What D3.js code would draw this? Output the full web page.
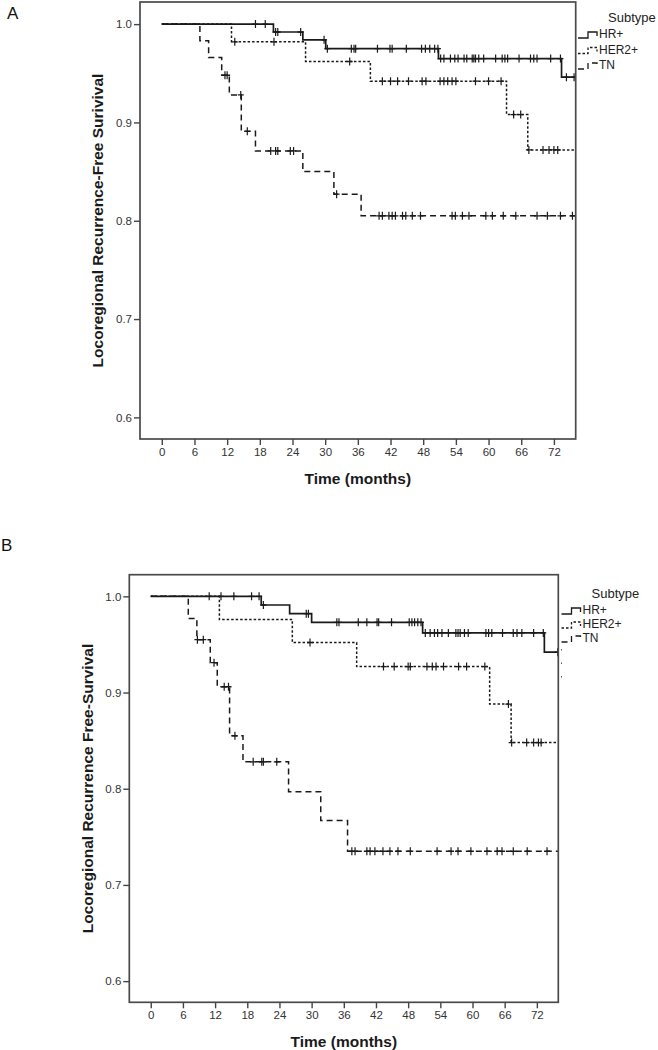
<!DOCTYPE html>
<html><head><meta charset="utf-8">
<script src="https://cdn.jsdelivr.net/npm/d3@7"></script>
<style>body{margin:0;background:#fff;} text{font-family:"Liberation Sans",Arial,sans-serif;}</style>
</head><body><svg id="c" width="658" height="1050"></svg>
<script>
// ---------- data ----------
const xTicks = [0,6,12,18,24,30,36,42,48,54,60,66,72];
const yTicks = [0.6,0.7,0.8,0.9,1.0];
const subtypes = ["HR+","HER2+","TN"];

// Panel A
const A_HR_events = [20.5,25.9,30.1,50.8,73.4];
const A_HR_surv   = [0.992,0.984,0.975,0.965,0.946];
const A_HR_cens   = [17.2,19.0,20.9,21.3,25.5,29.8,30.4,34.8,35.3,35.6,39.6,41.9,42.3,44.9,47.7,48.4,49.2,50.1,50.7,51.2,51.8,53.0,53.8,54.4,55.5,56.0,57.0,57.3,57.6,58.2,59.1,61.3,62.5,63.0,63.5,65.6,67.7,68.3,68.9,71.4,73.2,74.3,75.7];
const A_HER2_events = [12.8,26.4,38.3,63.3,67.2];
const A_HER2_surv   = [0.982,0.962,0.942,0.908,0.872];
const A_HER2_cens   = [13.4,20.6,34.5,40.5,42.0,43.3,45.3,47.8,48.5,51.1,51.8,52.5,53.3,54.0,57.6,60.0,62.3,64.6,65.9,67.4,70.0,71.1,72.0,72.7];
const A_TN_events = [7.0,8.6,11.0,12.4,14.6,17.2,25.9,31.6,36.6];
const A_TN_surv   = [0.983,0.966,0.948,0.928,0.891,0.871,0.850,0.827,0.805];
const A_TN_cens   = [11.6,12.0,14.5,15.7,20.0,20.9,21.3,23.6,24.2,32.1,39.9,40.5,41.7,42.3,42.9,44.2,44.8,46.0,47.5,53.3,53.9,55.2,56.4,59.5,60.7,62.7,65.0,68.9,70.8,73.2,75.4];

// Panel B
const B_HR_events = [20.6,25.9,30.0,50.7,73.4];
const B_HR_surv   = [0.991,0.982,0.973,0.962,0.942];
const B_HR_cens   = [10.9,13.1,15.5,18.8,20.2,21.0,29.0,29.4,34.7,35.1,38.7,40.3,42.2,42.5,44.9,48.2,48.7,49.2,49.8,50.4,51.2,52.1,52.9,53.5,54.3,55.5,56.9,57.3,57.7,58.5,59.2,62.5,63.0,63.6,65.6,67.6,68.3,69.2,71.4,73.2,75.9];
const B_HER2_events = [12.8,26.4,38.4,63.2,67.2];
const B_HER2_surv   = [0.976,0.952,0.927,0.888,0.848];
const B_HER2_cens   = [29.7,43.4,45.4,48.0,48.4,51.5,52.5,53.2,54.6,57.4,58.9,62.3,66.7,67.3,70.1,71.4,72.3,72.8];
const B_TN_events = [7.0,8.6,11.1,12.4,14.7,17.2,25.7,31.7,36.7];
const B_TN_surv   = [0.977,0.955,0.931,0.906,0.855,0.828,0.797,0.767,0.735];
const B_TN_cens   = [8.7,9.8,11.8,13.7,14.5,15.7,19.1,20.7,21.0,23.5,37.5,38.1,40.3,40.9,41.8,43.3,44.6,46.1,48.4,53.4,56.0,57.3,59.7,62.7,64.6,65.5,67.6,70.2,73.9];

// ---------- drawing ----------
const svg = d3.select("#c");
const styles = {
  "HR+":  {dash:null,  w:1.7},
  "HER2+":{dash:"2.5,2", w:1.5},
  "TN":   {dash:"6,4", w:1.5}
};

function panel(cfg){
  const x = d3.scaleLinear().domain([-4,76]).range([cfg.left,cfg.right]);
  const y = d3.scaleLinear().domain([0.578,1.0225]).range([cfg.bottom,cfg.top]);
  const g = svg.append("g");
  const clipId = "clip"+cfg.id;
  svg.append("clipPath").attr("id",clipId).append("rect")
    .attr("x",cfg.left).attr("y",cfg.top).attr("width",cfg.right-cfg.left).attr("height",cfg.bottom-cfg.top);

  // curves
  const line = d3.line().x(d=>x(d[0])).y(d=>y(d[1])).curve(d3.curveStepAfter);
  const cg = g.append("g").attr("clip-path",`url(#${clipId})`);
  cfg.series.forEach(s=>{
    const st = styles[s.name];
    const pts = [[0,1]];
    s.events.forEach((t,i)=>pts.push([t,s.surv[i]]));
    pts.push([76,s.surv[s.surv.length-1]]);
    cg.append("path").attr("d",line(pts)).attr("fill","none").attr("stroke","#1a1a1a")
      .attr("stroke-width",st.w).attr("stroke-dasharray",st.dash);
    const survAt = t => { const i = d3.bisectRight(s.events,t)-1; return i<0?1:s.surv[i]; };
    s.cens.forEach(t=>{
      const cx = x(t), cy = y(survAt(t));
      cg.append("line").attr("x1",cx).attr("x2",cx).attr("y1",cy-4).attr("y2",cy+4)
        .attr("stroke","#1a1a1a").attr("stroke-width",1.2);
      cg.append("line").attr("x1",cx-3).attr("x2",cx+3).attr("y1",cy).attr("y2",cy)
        .attr("stroke","#1a1a1a").attr("stroke-width",1.3);
    });
  });

  // box
  g.append("rect").attr("x",cfg.left).attr("y",cfg.top).attr("width",cfg.right-cfg.left)
    .attr("height",cfg.bottom-cfg.top).attr("fill","none").attr("stroke","#4a4a4a").attr("stroke-width",1.7);

  // axes
  const xa = g.append("g").attr("transform",`translate(0,${cfg.bottom})`)
    .call(d3.axisBottom(x).tickValues(xTicks).tickSize(6).tickPadding(3).tickSizeOuter(0));
  xa.select(".domain").remove();
  xa.selectAll("line").attr("stroke","#444").attr("stroke-width",1.4);
  xa.selectAll("text").attr("font-size",11.5).attr("fill","#333").attr("font-family","Liberation Sans, Arial");
  const ya = g.append("g").attr("transform",`translate(${cfg.left},0)`)
    .call(d3.axisLeft(y).tickValues(yTicks).tickFormat(d3.format(".1f")).tickSize(6).tickPadding(2).tickSizeOuter(0));
  ya.select(".domain").remove();
  ya.selectAll("line").attr("stroke","#444").attr("stroke-width",1.4);
  ya.selectAll("text").attr("font-size",11.5).attr("fill","#333").attr("font-family","Liberation Sans, Arial");

  // titles
  g.append("text").attr("x",(cfg.left+cfg.right)/2).attr("y",cfg.bottom+45).attr("text-anchor","middle")
    .attr("font-size",15.5).attr("font-weight","bold").attr("fill","#1a1a1a").text("Time (months)");
  g.append("text").attr("transform",`translate(${cfg.ylabX},${(cfg.top+cfg.bottom)/2}) rotate(-90)`)
    .attr("text-anchor","middle").attr("font-size",15.5).attr("font-weight","bold").attr("fill","#1a1a1a").text(cfg.ylab);
  g.append("text").attr("x",cfg.tagX).attr("y",cfg.tagY).attr("font-size",17).attr("fill","#111").text(cfg.tag);

  // legend
  g.append("text").attr("x",cfg.legX+30).attr("y",cfg.legY-16).attr("font-size",13).attr("fill","#222")
    .attr("dominant-baseline","middle").text("Subtype");
  subtypes.forEach((n,i)=>{
    const st = styles[n];
    const ly = cfg.legY + i*cfg.legGap;
    const lx = cfg.legX;
    g.append("path").attr("d",`M${lx},${ly+3}H${lx+10}V${ly-3}H${lx+19}V${ly+1}`)
      .attr("fill","none").attr("stroke","#1a1a1a").attr("stroke-width",1.3).attr("stroke-dasharray",st.dash);
    g.append("text").attr("x",lx+21).attr("y",ly).attr("dominant-baseline","middle")
      .attr("font-size",12).attr("fill","#222").text(n);
  });
  if(cfg.extraDots){
    g.append("line").attr("x1",cfg.legX).attr("x2",cfg.legX).attr("y1",cfg.legY+2*cfg.legGap+10).attr("y2",cfg.legY+2*cfg.legGap+42)
      .attr("stroke","#555").attr("stroke-width",1).attr("stroke-dasharray","1.5,12");
  }
}

panel({id:"A", left:140, right:575.7, top:2, bottom:439, tag:"A", tagX:7, tagY:19,
  ylab:"Locoregional Recurrence-Free Surivival", ylabX:103,
  legX:578, legY:35, legGap:15.5, extraDots:false,
  series:[
    {name:"HR+", events:A_HR_events, surv:A_HR_surv, cens:A_HR_cens},
    {name:"HER2+", events:A_HER2_events, surv:A_HER2_surv, cens:A_HER2_cens},
    {name:"TN", events:A_TN_events, surv:A_TN_surv, cens:A_TN_cens}
  ]});
panel({id:"B", left:129.3, right:558.3, top:574.7, bottom:1002.3, tag:"B", tagX:1, tagY:551,
  ylab:"Locoregional Recurrence Free-Survival", ylabX:93,
  legX:561.5, legY:611, legGap:14, extraDots:true,
  series:[
    {name:"HR+", events:B_HR_events, surv:B_HR_surv, cens:B_HR_cens},
    {name:"HER2+", events:B_HER2_events, surv:B_HER2_surv, cens:B_HER2_cens},
    {name:"TN", events:B_TN_events, surv:B_TN_surv, cens:B_TN_cens}
  ]});
</script></body></html>
